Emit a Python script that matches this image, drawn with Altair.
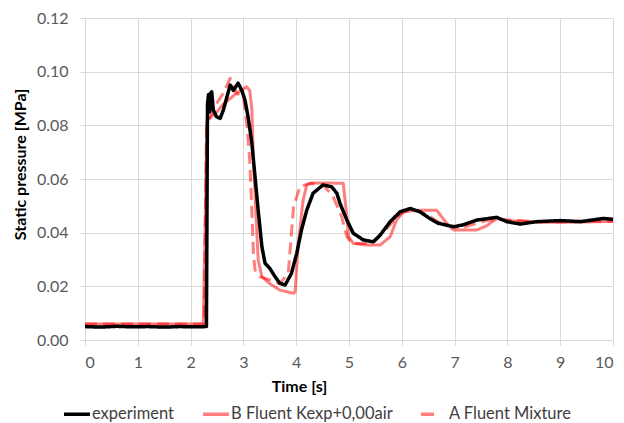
import altair as alt
import pandas as pd

# experiment (black)
exp_t = [0, 0.3, 0.6, 0.9, 1.2, 1.5, 1.8, 2.1, 2.3, 2.32, 2.34, 2.36, 2.38, 2.40, 2.43, 2.49,
         2.56, 2.62, 2.68, 2.75, 2.81, 2.90, 2.97, 3.03, 3.09, 3.16, 3.22, 3.28, 3.35, 3.41,
         3.50, 3.60, 3.69, 3.79, 3.91, 4.01, 4.10, 4.20, 4.32, 4.51, 4.67, 4.77, 4.83, 4.96,
         5.08, 5.27, 5.46, 5.59, 5.78, 5.97, 6.16, 6.34, 6.53, 6.69, 6.98, 7.16, 7.42, 7.80,
         7.99, 8.24, 8.55, 9.0, 9.38, 9.82, 10.0]
exp_v = [0.0050, 0.0048, 0.0051, 0.0049, 0.0050, 0.0048, 0.0050, 0.0049, 0.0050, 0.0880, 0.0915,
         0.0850, 0.0920, 0.0925, 0.0857, 0.0832, 0.0826, 0.0857, 0.0900, 0.0950, 0.0930, 0.0957,
         0.0930, 0.0894, 0.0830, 0.0734, 0.0609, 0.0484, 0.0348, 0.0286, 0.0267, 0.0236, 0.0211,
         0.0205, 0.0248, 0.0323, 0.0410, 0.0484, 0.0547, 0.0578, 0.0571, 0.0547, 0.0509, 0.0447,
         0.0398, 0.0373, 0.0366, 0.0391, 0.0441, 0.0478, 0.0490, 0.0478, 0.0453, 0.0435, 0.0422,
         0.0429, 0.0447, 0.0457, 0.0441, 0.0432, 0.0441, 0.0445, 0.0441, 0.0453, 0.0450]

# B Fluent Kexp+0,00air (solid red)
b_t = [0, 2.24, 2.31, 2.37, 2.50, 2.62, 2.75, 2.87, 3.00, 3.06, 3.12, 3.16, 3.19, 3.25, 3.28,
       3.35, 3.50, 3.69, 3.95, 3.98, 4.04, 4.13, 4.20, 4.30, 4.60, 4.89, 4.96, 4.99, 5.08, 5.33,
       5.59, 5.78, 5.90, 6.03, 6.34, 6.66, 6.85, 6.98, 7.42, 7.60, 7.80, 8.0, 8.5, 9.0, 9.5, 10.0]
b_v = [0.0060, 0.0060, 0.0820, 0.0830, 0.0850, 0.0880, 0.0900, 0.0920, 0.0935, 0.0944, 0.0930,
       0.0860, 0.0670, 0.0420, 0.0298, 0.0236, 0.0210, 0.0186, 0.0174, 0.0180, 0.0360, 0.0520,
       0.0578, 0.0585, 0.0585, 0.0584, 0.0460, 0.0385, 0.0360, 0.0354, 0.0354, 0.0385, 0.0447,
       0.0478, 0.0484, 0.0484, 0.0435, 0.0410, 0.0410, 0.0425, 0.0453, 0.0445, 0.0440, 0.0438,
       0.0440, 0.0442]

# A Fluent Mixture (dashed red)
a_t = [0, 2.26, 2.30, 2.37, 2.49, 2.62, 2.75, 2.87, 3.00, 3.07, 3.12, 3.16, 3.19, 3.22, 3.31,
       3.50, 3.69, 3.85, 3.95, 4.07, 4.26, 4.51, 4.70, 4.86, 4.96, 5.05, 5.30, 5.50, 5.78, 5.97,
       6.16, 6.34, 6.53, 6.69, 6.98, 7.16, 7.42, 7.60, 7.80, 8.2, 8.6, 9.0, 9.5, 10.0]
a_v = [0.0060, 0.0060, 0.0800, 0.0830, 0.0880, 0.0920, 0.0975, 0.0920, 0.0907, 0.0795, 0.0670,
       0.0484, 0.0323, 0.0261, 0.0236, 0.0224, 0.0210, 0.0250, 0.0497, 0.0571, 0.0584, 0.0578,
       0.0534, 0.0460, 0.0385, 0.0360, 0.0360, 0.0370, 0.0430, 0.0470, 0.0485, 0.0480, 0.0460,
       0.0440, 0.0420, 0.0420, 0.0435, 0.0445, 0.0450, 0.0445, 0.0440, 0.0442, 0.0443, 0.0443]

series_names = ["experiment", "B Fluent Kexp+0,00air", "A Fluent Mixture"]
series_colors = ["#000000", "rgba(255,0,0,0.5)", "rgba(255,0,0,0.5)"]
legend_dash = [[1, 0], [1, 0], [13, 40]]

frames = []
for name, ts, vs in zip(series_names, [exp_t, b_t, a_t], [exp_v, b_v, a_v]):
    frames.append(pd.DataFrame({"t": ts, "p": vs, "series": name}))
df = pd.concat(frames, ignore_index=True)

FONT = "Lato"
x_enc = alt.X("t:Q", scale=alt.Scale(domain=[0, 10], nice=False),
              axis=alt.Axis(values=list(range(11)), grid=True, gridColor="#d9d9d9",
                            domainColor="#d9d9d9", tickColor="#d9d9d9", tickSize=5,
                            labelFontSize=16, labelFont=FONT, labelColor="#595959",
                            labelPadding=9, title="Time [s]", titleFont=FONT,
                            titleFontSize=16, titleFontWeight="bold", titleColor="#000000",
                            titleX=214, titleY=46, titleBaseline="middle"))
y_enc = alt.Y("p:Q", scale=alt.Scale(domain=[0, 0.12], nice=False),
              axis=alt.Axis(values=[0, 0.02, 0.04, 0.06, 0.08, 0.10, 0.12], format=".2f",
                            grid=True, gridColor="#d9d9d9", domainColor="#d9d9d9",
                            tickColor="#d9d9d9", tickSize=5, labelFontSize=16,
                            labelFont=FONT, labelColor="#595959", labelPadding=12,
                            title="Static pressure [MPa]", titleFont=FONT, titleFontSize=16,
                            titleFontWeight="bold", titleColor="#000000",
                            titleX=-65, titleY=146, titleBaseline="middle"))
legend = alt.Legend(
    title=None, orient="none", legendX=-23, legendY=381,
    direction="horizontal", columns=3,
    symbolType="stroke", symbolSize=676, symbolStrokeWidth=3.5,
    labelFontSize=16.5, labelFont=FONT, labelColor="#404040",
    labelOffset=0, columnPadding=21, labelLimit=300, padding=0)
color_enc = alt.Color("series:N",
                      scale=alt.Scale(domain=series_names, range=series_colors),
                      legend=legend)
dash_enc = alt.StrokeDash("series:N",
                          scale=alt.Scale(domain=series_names, range=legend_dash),
                          legend=legend)

# legend-only layer (draws nothing)
legend_layer = alt.Chart(df).transform_filter("false").mark_line().encode(
    x=x_enc, y=y_enc, color=color_enc, strokeDash=dash_enc)

def layer(name, width, dash):
    return alt.Chart(df).transform_filter(alt.datum.series == name).mark_line(
        strokeWidth=width, strokeJoin="round", strokeDash=dash).encode(
        x=x_enc, y=y_enc, color=color_enc, order="t:Q")

chart = alt.layer(
    legend_layer,
    layer("B Fluent Kexp+0,00air", 3, [1, 0]),
    layer("A Fluent Mixture", 3, [12, 6]),
    layer("experiment", 3.5, [1, 0]),
).properties(
    width=528, height=322,
    autosize=alt.AutoSizeParams(type="none"),
    padding={"left": 85, "top": 18, "right": 11, "bottom": 83},
    background="white",
).configure_view(strokeWidth=0)

chart.save("out.html", embed_options={"renderer": "svg", "actions": False})
